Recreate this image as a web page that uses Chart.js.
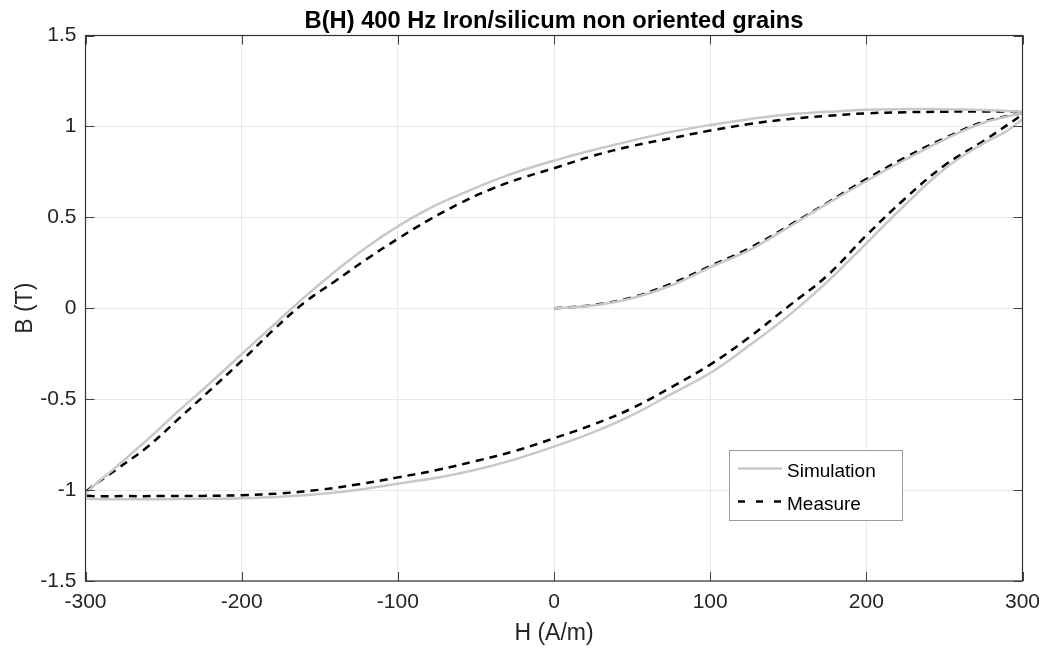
<!DOCTYPE html>
<html><head><meta charset="utf-8">
<script src="https://cdn.jsdelivr.net/npm/chart.js@4/dist/chart.umd.min.js"></script>
<style>html,body{margin:0;padding:0;background:#fff;}</style>
</head><body>
<canvas id="c" width="1044" height="648"></canvas>
<script>
const chartTitle = 'B(H) 400 Hz Iron/silicum non oriented grains';
const xTitle = 'H (A/m)';
const yTitle = 'B (T)';
const xTicks = [-300, -200, -100, 0, 100, 200, 300];
const yTicks = [-1.5, -1, -0.5, 0, 0.5, 1, 1.5];
const seriesNames = ['Simulation', 'Measure'];

// Simulation: initial curve, descending branch, ascending branch
const simInitH = [0, 25, 50, 75, 100, 125, 150, 175, 200, 225, 250, 275, 300];
const simInitB = [0, 0.015, 0.055, 0.125, 0.225, 0.32, 0.445, 0.575, 0.70, 0.818, 0.928, 1.02, 1.075];
const simDescH = [300, 275, 250, 225, 200, 175, 150, 125, 100, 75, 50, 25, 0, -20, -40, -60, -80, -100, -120, -140, -160, -180, -200, -220, -240, -260, -280, -300];
const simDescB = [1.08, 1.09, 1.095, 1.095, 1.092, 1.08, 1.066, 1.04, 1.008, 0.97, 0.922, 0.87, 0.812, 0.76, 0.698, 0.626, 0.548, 0.45, 0.336, 0.204, 0.06, -0.096, -0.252, -0.41, -0.562, -0.72, -0.87, -1.02];
const simAscH = [-300, -275, -250, -225, -200, -175, -150, -125, -100, -75, -50, -25, 0, 25, 50, 75, 100, 125, 150, 175, 200, 225, 250, 275, 290, 300];
const simAscB = [-1.045, -1.05, -1.05, -1.048, -1.045, -1.037, -1.022, -0.998, -0.965, -0.932, -0.888, -0.831, -0.761, -0.683, -0.588, -0.472, -0.356, -0.205, -0.042, 0.145, 0.357, 0.57, 0.766, 0.907, 0.975, 1.04];

// Measure: initial curve, descending branch, ascending branch
const meaInitH = [0, 25, 50, 75, 100, 125, 150, 175, 200, 225, 250, 275, 300];
const meaInitB = [0, 0.018, 0.06, 0.135, 0.232, 0.33, 0.452, 0.58, 0.71, 0.83, 0.935, 1.025, 1.075];
const meaDescH = [300, 275, 250, 225, 200, 175, 150, 125, 100, 75, 50, 25, 0, -20, -40, -60, -80, -100, -120, -140, -160, -180, -200, -220, -240, -260, -280, -300];
const meaDescB = [1.08, 1.082, 1.081, 1.078, 1.072, 1.058, 1.04, 1.013, 0.977, 0.935, 0.892, 0.838, 0.77, 0.718, 0.656, 0.578, 0.486, 0.382, 0.27, 0.15, 0.03, -0.122, -0.289, -0.449, -0.605, -0.76, -0.885, -1.01];
const meaAscH = [-300, -275, -250, -225, -200, -175, -150, -125, -100, -75, -50, -25, 0, 25, 50, 75, 100, 125, 150, 175, 200, 225, 250, 275, 300];
const meaAscB = [-1.03, -1.033, -1.033, -1.032, -1.028, -1.018, -0.998, -0.968, -0.93, -0.89, -0.84, -0.785, -0.715, -0.64, -0.55, -0.435, -0.31, -0.16, 0.01, 0.18, 0.4, 0.605, 0.785, 0.92, 1.065];

const FONT = "'Liberation Sans', Arial, Helvetica, sans-serif";
function pts(hs, bs) { return hs.map((h, i) => ({ x: h, y: bs[i] })); }
const simPts = [].concat(pts(simInitH, simInitB), pts(simDescH, simDescB), pts(simAscH, simAscB));
const meaPts = [].concat(pts(meaInitH, meaInitB), pts(meaDescH, meaDescB), pts(meaAscH, meaAscB));

const framePlugin = {
  id: 'frame',
  afterDatasetsDraw(chart) {
    const { ctx, chartArea: a, scales: { x, y } } = chart;
    ctx.save();
    ctx.strokeStyle = '#404040';
    ctx.lineWidth = 1;
    ctx.beginPath();
    xTicks.forEach(v => {
      const px = Math.round(x.getPixelForValue(v)) + 0.5;
      ctx.moveTo(px, a.bottom); ctx.lineTo(px, a.bottom - 9);
      ctx.moveTo(px, a.top); ctx.lineTo(px, a.top + 9);
    });
    yTicks.forEach(v => {
      const py = Math.round(y.getPixelForValue(v)) + 0.5;
      ctx.moveTo(a.left, py); ctx.lineTo(a.left + 9, py);
      ctx.moveTo(a.right, py); ctx.lineTo(a.right - 9, py);
    });
    ctx.stroke();
    ctx.strokeStyle = '#333';
    ctx.lineWidth = 1.2;
    ctx.strokeRect(a.left, a.top, a.right - a.left, a.bottom - a.top);
    ctx.restore();
  },
  afterDraw(chart) {
    const { ctx, chartArea: a } = chart;
    ctx.save();
    ctx.fillStyle = '#000';
    ctx.font = 'bold 23.7px ' + FONT;
    ctx.textAlign = 'center';
    ctx.textBaseline = 'alphabetic';
    ctx.fillText(chartTitle, (a.left + a.right) / 2, 28);
    ctx.fillStyle = '#262626';
    ctx.font = '23px ' + FONT;
    ctx.fillText(xTitle, (a.left + a.right) / 2, 640);
    ctx.save();
    ctx.translate(31.5, (a.top + a.bottom) / 2);
    ctx.rotate(-Math.PI / 2);
    ctx.fillText(yTitle, 0, 0);
    ctx.restore();

    // legend
    const lx = 729.5, ly = 450.5, lw = 173, lh = 70;
    ctx.fillStyle = '#fff';
    ctx.fillRect(lx, ly, lw, lh);
    ctx.strokeStyle = '#9a9a9a';
    ctx.lineWidth = 1;
    ctx.strokeRect(lx, ly, lw, lh);
    const rows = [468.5, 501.5];
    chart.data.datasets.forEach((ds, i) => {
      ctx.save();
      ctx.strokeStyle = ds.borderColor;
      ctx.lineWidth = ds.borderWidth;
      ctx.setLineDash(ds.borderDash ? [7, 11] : []);
      ctx.beginPath();
      ctx.moveTo(738, rows[i]); ctx.lineTo(782, rows[i]);
      ctx.stroke();
      ctx.restore();
      ctx.fillStyle = '#000';
      ctx.font = '19px ' + FONT;
      ctx.textAlign = 'left';
      ctx.textBaseline = 'alphabetic';
      ctx.fillText(ds.label, 787, rows[i] + 8);
    });
    ctx.restore();
  }
};

const tickFont = { family: FONT, size: 21 };
new Chart(document.getElementById('c'), {
  type: 'scatter',
  data: {
    datasets: [
      { label: seriesNames[0], data: simPts, showLine: true, borderColor: '#c8c8c8', borderWidth: 2.5, pointRadius: 0, tension: 0.4, fill: false },
      { label: seriesNames[1], data: meaPts, showLine: true, borderColor: '#000000', borderWidth: 2.5, borderDash: [8, 6], pointRadius: 0, tension: 0.4, fill: false }
    ]
  },
  options: {
    responsive: false,
    animation: false,
    devicePixelRatio: 1,
    layout: { padding: { top: 35.5, right: 21.5, bottom: 0, left: 0 } },
    plugins: { legend: { display: false }, tooltip: { enabled: false }, title: { display: false } },
    scales: {
      x: {
        type: 'linear', min: -300, max: 300,
        afterBuildTicks: s => { s.ticks = xTicks.map(v => ({ value: v })); },
        afterFit: s => { s.height = 67; s.paddingLeft = 0; s.paddingRight = 0; },
        grid: { color: '#e8e8e8', drawTicks: false, lineWidth: 1 },
        border: { display: false },
        ticks: { padding: 9, color: '#262626', font: tickFont, maxRotation: 0, autoSkip: false, callback: v => String(v) }
      },
      y: {
        type: 'linear', min: -1.5, max: 1.5,
        afterBuildTicks: s => { s.ticks = yTicks.map(v => ({ value: v })); },
        afterFit: s => { s.width = 85.5; s.paddingTop = 0; s.paddingBottom = 0; },
        grid: { color: '#e8e8e8', drawTicks: false, lineWidth: 1 },
        border: { display: false },
        ticks: { padding: 9, color: '#262626', font: tickFont, autoSkip: false, callback: v => String(v) }
      }
    }
  },
  plugins: [framePlugin]
});
</script>
</body></html>
